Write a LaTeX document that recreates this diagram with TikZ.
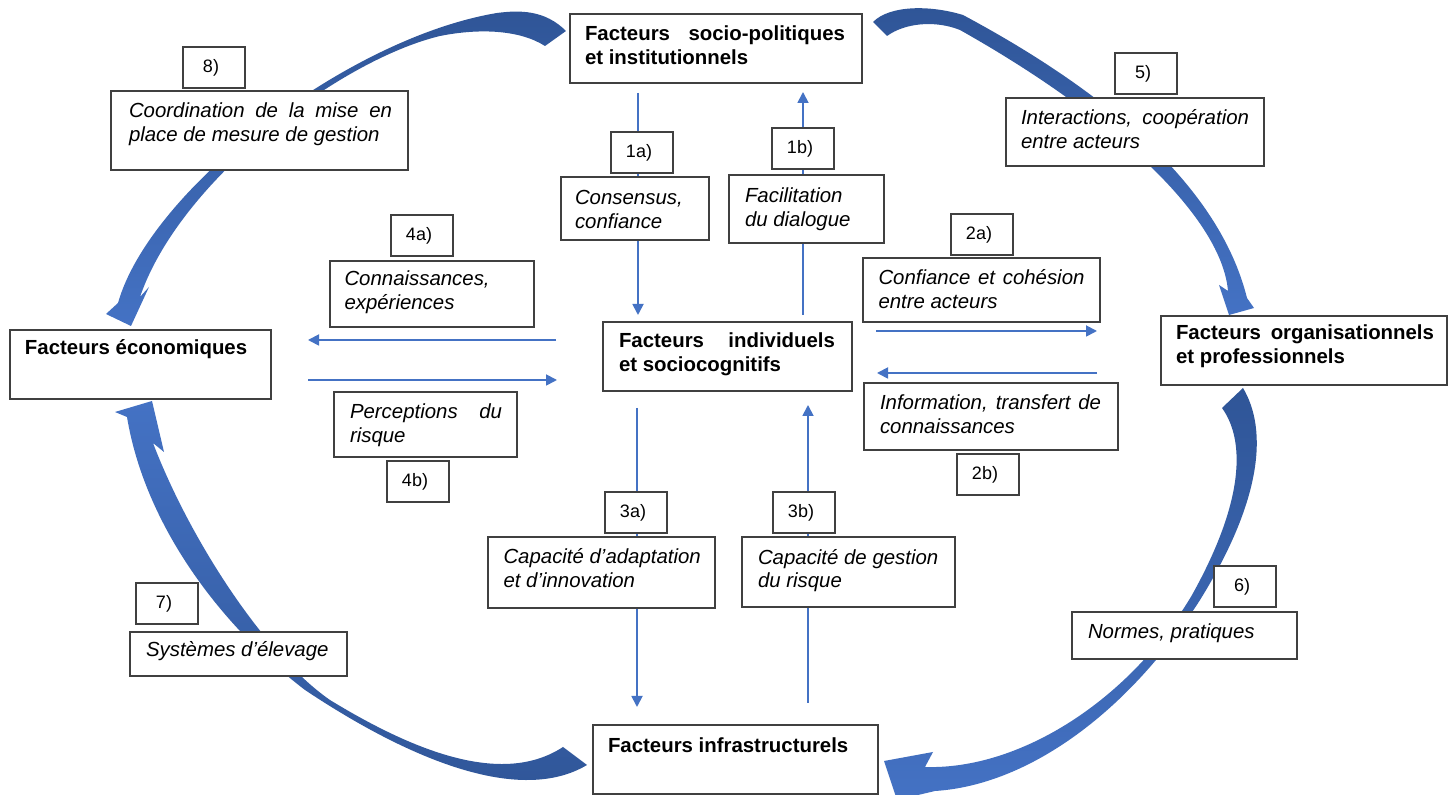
\documentclass[tikz,border=0pt]{standalone}
\usepackage{fontspec}
\setmainfont{Liberation Sans}
\usetikzlibrary{arrows.meta}
\definecolor{ablue}{HTML}{4472C4}
\definecolor{dblue}{HTML}{2F5597}
\definecolor{boxc}{HTML}{404040}
\newcommand{\twol}[2]{\begin{tabular}[t]{@{}l@{}}#1\\#2\end{tabular}}
\begin{document}
\begin{tikzpicture}[x=0.5pt,y=-0.5pt,
  box/.style={draw=boxc, line width=0.6pt, fill=white, inner sep=0pt, outer sep=0pt, anchor=north west},
  mainbox/.style={box, minimum height=34.5pt},
  numbox/.style={box, minimum width=31pt, minimum height=20.5pt, font=\fontsize{9pt}{10pt}\selectfont},
  itxt/.style={anchor=base west, inner sep=0pt, outer sep=0pt, font=\fontsize{10.2pt}{11.75pt}\selectfont\itshape},
  btxt/.style={anchor=base west, inner sep=0pt, outer sep=0pt, font=\fontsize{10.2pt}{11.75pt}\selectfont\bfseries},
  conn/.style={draw=ablue, line width=0.9pt, -{Triangle[length=5.5pt,width=5.5pt]}}
]
\useasboundingbox (0,0) rectangle (1448,795);
\fill[white] (0,0) rectangle (1448,795);
\clip (0,0) rectangle (1448,795);

% ---- main boxes (named, drawn later on top) ----
\node[mainbox, minimum width=146pt]   (socio) at (570,14)  {};
\node[mainbox, minimum width=130.5pt] (econ)  at (10,330)  {};
\node[mainbox, minimum width=143pt]   (org)   at (1161,316) {};
\node[mainbox, minimum width=124.5pt] (indiv) at (603,322) {};
\node[mainbox, minimum width=142.5pt] (infra) at (593,725) {};

% ---- big curved arrows ----
% 8) socio -> econ
\shade[top color=dblue, bottom color=ablue]
  (566,31) .. controls (545,10) and (520,10) .. (497,13)
  .. controls (347,38) and (150,190) .. (118,303)
  -- (106,314) -- (131,326) -- (149,287) -- (140,297)
  .. controls (180,180) and (340,60) .. (440,36)
  .. controls (480,28) and (520,30) .. (545,46) -- cycle;
% 5) socio -> org
\shade[top color=dblue, bottom color=ablue]
  (873,22) .. controls (890,5) and (930,5) .. (963,15)
  .. controls (1075,75) and (1215,170) .. (1247,298)
  -- (1254,308) -- (1229,315) -- (1219,285) -- (1228,291)
  .. controls (1222,220) and (1120,120) .. (960,30)
  .. controls (935,20) and (905,23) .. (887,36) -- cycle;
% 6) org -> infra
\shade[top color=dblue, bottom color=ablue]
  (1243,388) .. controls (1268,430) and (1262,500) .. (1200,600)
  .. controls (1130,710) and (1030,785) .. (935,791)
  -- (897,800) -- (884,761) -- (933,752) -- (925,767)
  .. controls (1020,770) and (1130,700) .. (1192,595)
  .. controls (1245,500) and (1245,440) .. (1222,408) -- cycle;
% 7) infra -> econ
\shade[top color=ablue, bottom color=dblue]
  (563,747) .. controls (505,785) and (420,755) .. (330,700)
  .. controls (265,655) and (190,540) .. (153,443)
  -- (164,452) -- (152,401) -- (115,412) -- (127,417)
  .. controls (145,525) and (220,625) .. (305,690)
  .. controls (410,760) and (520,805) .. (587,765) -- cycle;

% ---- thin connectors ----
\coordinate (c1a) at (638,0);
\coordinate (c1b) at (803,0);
\coordinate (c3a) at (637,0);
\coordinate (c3b) at (808,0);
\coordinate (c4a) at (0,340);
\coordinate (c4b) at (0,380);
\coordinate (c2a) at (0,331);
\coordinate (c2b) at (0,373);
\draw[conn, shorten <=5pt, shorten >=3.5pt] (socio.south -| c1a) -- (indiv.north -| c1a);
\draw[conn, shorten <=3.5pt, shorten >=4.5pt] (indiv.north -| c1b) -- (socio.south -| c1b);
\draw[conn, shorten <=8.5pt, shorten >=9pt] (indiv.south -| c3a) -- (infra.north -| c3a);
\draw[conn, shorten <=11pt, shorten >=7pt] (infra.north -| c3b) -- (indiv.south -| c3b);
\draw[conn, shorten <=23.5pt, shorten >=18.5pt] (indiv.west |- c4a) -- (econ.east |- c4a);
\draw[conn, shorten <=18.5pt, shorten >=23pt] (econ.east |- c4b) -- (indiv.west |- c4b);
\draw[conn, shorten <=12pt, shorten >=32pt] (indiv.east |- c2a) -- (org.west |- c2a);
\draw[conn, shorten <=32pt, shorten >=12.5pt] (org.west |- c2b) -- (indiv.east |- c2b);

% ---- label boxes ----
\node[numbox] (b8)  at (183,47)  {8)\kern3pt};
\node[box, minimum width=148.5pt, minimum height=39.5pt] (coord) at (111,91) {};
\node[numbox] (b4a) at (391,215) {4a)\kern3pt};
\node[box, minimum width=102pt, minimum height=33pt] (conn) at (330,261) {};
\node[box, minimum width=91.5pt, minimum height=32.5pt] (perc) at (334,392) {};
\node[numbox] (b4b) at (387,461) {4b)\kern3pt};
\node[numbox] (b7)  at (136,583) {7)\kern3pt};
\node[box, minimum width=108.5pt, minimum height=22pt] (sys) at (130,632) {};
\node[numbox] (b3a) at (605,492) {3a)\kern3pt};
\node[box, minimum width=113.5pt, minimum height=35.5pt] (adapt) at (488,537) {};
\node[numbox] (b3b) at (773,492) {3b)\kern3pt};
\node[box, minimum width=106.5pt, minimum height=35pt] (gest) at (742,537) {};
\node[numbox] (b1a) at (611,132) {1a)\kern3pt};
\node[box, minimum width=74pt, minimum height=31.5pt] (cons) at (561,177) {};
\node[numbox] (b1b) at (772,128) {1b)\kern3pt};
\node[box, minimum width=77.5pt, minimum height=34pt] (facil) at (729,175) {};
\node[numbox] (b2a) at (951,214) {2a)\kern3pt};
\node[box, minimum width=118.5pt, minimum height=32pt] (confi) at (863,258) {};
\node[box, minimum width=127pt, minimum height=33.5pt] (info) at (864,383) {};
\node[numbox] (b2b) at (957,454) {2b)\kern3pt};
\node[numbox] (b5)  at (1115,53) {5)\kern3pt};
\node[box, minimum width=129pt, minimum height=34pt] (inter) at (1006,98) {};
\node[numbox] (b6)  at (1214,566) {6)\kern3pt};
\node[box, minimum width=112.5pt, minimum height=23.5pt] (norm) at (1072,612) {};

% redraw main boxes on top
\node[mainbox, minimum width=146pt]   at (socio.north west) {};
\node[mainbox, minimum width=130.5pt] at (econ.north west)  {};
\node[mainbox, minimum width=143pt]   at (org.north west)   {};
\node[mainbox, minimum width=124.5pt] at (indiv.north west) {};
\node[mainbox, minimum width=142.5pt] at (infra.north west) {};

% ---- texts ----
\node[btxt] (tsocio) at (585,41) {\twol{\makebox[130pt][s]{Facteurs socio-politiques}}{et institutionnels}};
\node[btxt] (tecon)  at (25,355) {Facteurs économiques};
\node[btxt] (torg)   at (1176,340) {\twol{\makebox[129pt][s]{Facteurs organisationnels}}{et professionnels}};
\node[btxt] (tindiv) at (619,348) {\twol{\makebox[108pt][s]{Facteurs individuels}}{et sociocognitifs}};
\node[btxt] (tinfra) at (608,753) {Facteurs infrastructurels};

\node[itxt] (tcoord) at (129,118) {\twol{\makebox[131.5pt][s]{Coordination de la mise en}}{place de mesure de gestion}};
\node[itxt] (tconn)  at (344.5,286) {\twol{Connaissances,}{expériences}};
\node[itxt] (tperc)  at (350,419) {\twol{\makebox[76pt][s]{Perceptions du}}{risque}};
\node[itxt] (tsys)   at (146,657) {Systèmes d’élevage};
\node[itxt] (tadapt) at (503.5,564) {\twol{Capacité d’adaptation}{et d’innovation}};
\node[itxt] (tgest)  at (758,564.5) {\twol{Capacité de gestion}{du risque}};
\node[itxt] (tcons)  at (575,205) {\twol{Consensus,}{confiance}};
\node[itxt] (tfacil) at (745,203) {\twol{Facilitation}{du dialogue}};
\node[itxt] (tconfi) at (878.5,285) {\twol{\makebox[103pt][s]{Confiance et cohésion}}{entre acteurs}};
\node[itxt] (tinfo)  at (880,410) {\twol{\makebox[110.5pt][s]{Information, transfert de}}{connaissances}};
\node[itxt] (tinter) at (1021,125) {\twol{\makebox[114pt][s]{Interactions, coopération}}{entre acteurs}};
\node[itxt] (tnorm)  at (1088,639) {Normes, pratiques};
\end{tikzpicture}
\end{document}
